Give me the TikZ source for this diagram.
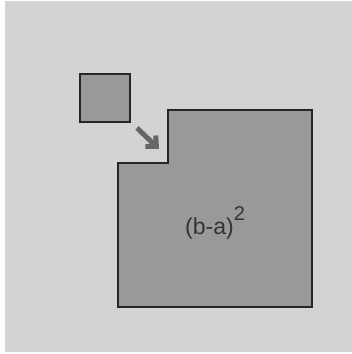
\documentclass[tikz,border=0pt]{standalone}
\usepackage{fontspec}
\setmainfont{Liberation Sans}
\usetikzlibrary{arrows.meta}
\definecolor{bg}{HTML}{D3D3D3}
\definecolor{shapefill}{HTML}{999999}
\definecolor{arrowcol}{HTML}{666666}
\tikzset{
  piece/.style={fill=shapefill, draw=black!85, line width=1.6pt, line join=miter},
  movearrow/.style={draw=arrowcol, line width=5pt, -{Straight Barb[length=8pt,width=15pt,line width=5pt]}}
}
\begin{document}
\begin{tikzpicture}[x=1pt,y=-1pt]
  \useasboundingbox (0,0) rectangle (352,354);
  \fill[white] (0,0) rectangle (352,354);
  \fill[bg] (5,1) rectangle (352,352);
  \draw[piece] (80,74) rectangle (130,122);
  \draw[piece] (168,110) -- (312,110) -- (312,307) -- (118,307) -- (118,163) -- (168,163) -- cycle;
  \coordinate (tail) at (137,128);
  \coordinate (tip) at (159,149);
  \draw[movearrow] (tail) -- (tip);
  \node[anchor=base west, inner sep=0pt, text=black!80] (lbl) at (185,234)
    {\fontsize{23}{23}\selectfont (b-a)\raisebox{14pt}{\fontsize{20}{20}\selectfont 2}};
\end{tikzpicture}
\end{document}
